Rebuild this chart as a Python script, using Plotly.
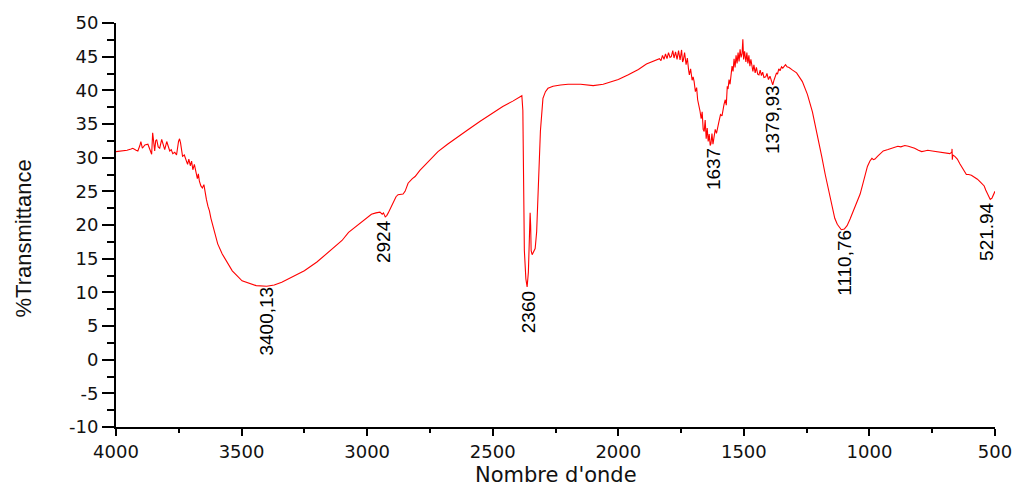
import plotly.graph_objects as go

# Wavenumber (cm-1) and %Transmittance
wavenumber = [
    4000, 3980, 3956, 3940, 3933, 3920, 3913, 3905, 3901, 3895, 3885, 3873, 3865, 3858, 3854, 3850,
    3846, 3842, 3838, 3832, 3826, 3818, 3812, 3806, 3798, 3792, 3786, 3780, 3774, 3766, 3759, 3751,
    3747, 3743, 3739, 3735, 3728, 3722, 3715, 3710, 3704, 3699, 3694, 3688, 3682, 3676, 3672, 3668,
    3662, 3656, 3650, 3645, 3640, 3634, 3628, 3622, 3616, 3608, 3595, 3577, 3561, 3537, 3498, 3470,
    3442, 3400, 3370, 3340, 3300, 3250, 3200, 3150, 3100, 3074, 3050, 3023, 3000, 2983, 2965, 2949,
    2940, 2935, 2928, 2922, 2916, 2905, 2896, 2885, 2877, 2865, 2857, 2849, 2843, 2837, 2820, 2809,
    2790, 2766, 2740, 2718, 2680, 2640, 2600, 2550, 2500, 2460, 2420, 2400, 2390, 2384, 2380, 2378,
    2374, 2368, 2363, 2358, 2355, 2351, 2349, 2347, 2343, 2337, 2331, 2325, 2318, 2310, 2300, 2290,
    2280, 2260, 2230, 2200, 2150, 2100, 2060, 2020, 2000, 1960, 1920, 1888, 1860,
    1836, 1830, 1824, 1818, 1812, 1806, 1800, 1794, 1789, 1783, 1778, 1772, 1766, 1760, 1754, 1748,
    1744, 1741, 1736, 1730, 1725, 1720, 1717, 1712, 1706, 1702, 1698, 1693, 1688, 1684, 1680, 1675,
    1670, 1666, 1662, 1658, 1654, 1650, 1646, 1642, 1638, 1634, 1631, 1627, 1623, 1619, 1614, 1609,
    1604, 1599, 1593, 1587, 1579, 1574, 1570, 1566, 1563, 1559, 1555, 1551, 1547, 1543, 1539, 1535,
    1531, 1527, 1523, 1519, 1515, 1511, 1507, 1504, 1501, 1497, 1492, 1488, 1484, 1480, 1476, 1472,
    1468, 1464, 1460, 1455, 1450, 1445, 1440, 1435, 1430, 1425, 1420, 1413, 1408, 1402, 1396, 1391,
    1385, 1380, 1375, 1370, 1366, 1361, 1356, 1350, 1345, 1340, 1334, 1328, 1320, 1306, 1290, 1267,
    1247, 1227, 1207, 1190, 1176, 1160, 1148, 1138, 1128, 1118, 1112, 1100, 1089, 1077, 1065, 1050,
    1037, 1027, 1017, 1008, 998, 990, 984, 978, 968, 958, 945, 926, 910, 900, 887, 875,
    859, 845, 835, 820, 805, 792, 780, 768, 750, 730, 713, 695, 680, 672, 671, 670,
    668, 660, 650, 640, 630, 622, 614, 605, 594, 582, 570, 556, 543, 537, 531, 525,
    519, 512, 506, 500,
]
transmittance = [
    30.9, 31.0, 31.1, 31.3, 31.4, 31.1, 31.0, 31.8, 32.4, 31.4, 31.9, 32.0, 31.2, 30.5, 33.7, 32.2,
    31.0, 32.5, 32.7, 31.6, 31.4, 32.7, 31.8, 31.2, 32.4, 31.5, 31.0, 31.2, 30.6, 30.8, 30.4, 32.4,
    32.8, 32.2, 31.0, 30.2, 30.4, 29.7, 29.0, 29.8, 28.8, 29.5, 28.2, 29.0, 27.8, 26.9, 27.6, 26.5,
    25.8, 25.5, 26.0, 24.5, 23.8, 22.8, 22.1, 21.0, 20.1, 19.1, 17.2, 15.7, 14.7, 13.2, 11.7, 11.3,
    11.0, 10.9, 11.1, 11.5, 12.3, 13.2, 14.5, 16.1, 17.7, 18.9, 19.6, 20.3, 21.0, 21.6, 21.8, 21.9,
    21.6, 21.8, 21.2, 21.4, 21.8, 22.7, 23.5, 24.2, 24.5, 24.6, 24.6, 25.0, 25.8, 26.2, 26.9, 27.2,
    28.1, 29.0, 30.0, 30.9, 32.0, 33.1, 34.1, 35.4, 36.6, 37.6, 38.4, 38.8, 39.1, 39.2, 37.0, 30.9,
    16.2, 12.0, 10.8, 13.0, 16.2, 21.8, 20.0, 16.2, 15.6, 16.0, 16.5, 19.0, 26.0, 34.0, 38.8, 39.8,
    40.3, 40.6, 40.8, 40.9, 40.9, 40.7, 40.9, 41.3, 41.6, 42.3, 43.1, 43.9, 44.3,
    44.7, 44.4, 45.2, 44.6, 45.4, 44.7, 45.6, 44.9, 45.0, 45.9, 44.8, 45.7, 44.6, 45.9, 44.5, 46.0,
    44.2, 44.5, 45.6, 43.8, 44.8, 43.0, 42.3, 43.2, 41.5, 42.0, 41.3, 39.8, 40.4, 38.6, 38.0, 37.0,
    35.8, 36.8, 34.2, 33.9, 35.6, 32.8, 34.4, 32.4, 33.5, 31.8, 32.1, 33.6, 32.0, 32.9, 34.2, 33.6,
    34.8, 35.4, 36.4, 36.2, 37.9, 38.6, 37.8, 40.6, 40.2, 41.6, 40.9, 42.3, 43.6, 42.8, 44.7, 43.4,
    45.2, 44.0, 45.6, 44.3, 46.1, 44.9, 45.5, 47.6, 44.6, 45.8, 44.2, 45.6, 44.0, 45.2, 43.6, 44.6,
    43.2, 42.8, 43.8, 42.6, 43.4, 42.4, 42.3, 43.0, 42.2, 42.7, 41.9, 42.0, 42.5, 41.6, 42.1, 41.3,
    40.8, 41.5, 42.2, 42.6, 42.4, 43.2, 42.9, 43.5, 43.3, 43.6, 43.8, 43.5, 43.4, 43.0, 42.6, 41.3,
    39.4, 36.8, 33.5, 30.2, 27.5, 24.6, 22.5, 21.0, 20.1, 19.5, 19.3, 19.4, 19.9, 20.9, 22.1, 23.3,
    24.6, 26.0, 27.5, 28.7, 29.5, 29.9, 29.7, 29.8, 30.2, 30.6, 31.0, 31.2, 31.4, 31.5, 31.7, 31.6,
    31.8, 31.7, 31.6, 31.4, 31.1, 30.9, 31.0, 31.1, 31.0, 30.9, 30.8, 30.7, 30.6, 30.8, 31.3, 29.7,
    30.4, 30.2, 29.8, 29.1, 28.4, 27.9, 27.5, 27.5, 27.4, 27.1, 26.8, 26.3, 25.8, 25.2, 24.7, 24.1,
    23.8, 24.0, 24.5, 25.0,
]

# Peak labels
peak_labels = ["3400,13", "2924", "2360", "1637", "1379,93", "1110,76", "521.94"]
peak_x = [3399, 2932, 2358, 1623, 1385, 1097, 531]
peak_y = [5.8, 17.5, 7.1, 28.3, 35.7, 14.4, 19.0]

y_tick_vals = [50, 45, 40, 35, 30, 25, 20, 15, 10, 5, 0, -5, -10]
y_tick_text = ["50", "45", "40", "35", "30", "25", "20", "15", "10", "5", "0", "-5", "-10"]
x_tick_vals = [4000, 3500, 3000, 2500, 2000, 1500, 1000, 500]
x_tick_text = ["4000", "3500", "3000", "2500", "2000", "1500", "1000", "500"]

fig = go.Figure()
fig.add_trace(go.Scatter(
    x=wavenumber, y=transmittance, mode="lines",
    line=dict(color="#ff0000", width=1.1), showlegend=False, hoverinfo="x+y",
))

tick_font = dict(family="DejaVu Sans, Liberation Sans, Arial", size=18, color="#111111")
label_font = "Liberation Sans, Arial"

for lab, px, py in zip(peak_labels, peak_x, peak_y):
    fig.add_annotation(
        x=px, y=py, xref="x", yref="y", text=lab, showarrow=False, textangle=-90,
        xanchor="center", yanchor="middle",
        font=dict(family=label_font, size=19, color="#000000"),
    )

fig.add_annotation(
    x=0.5, y=-0.118, xref="paper", yref="paper", text="Nombre d'onde", showarrow=False,
    xanchor="center", yanchor="middle",
    font=dict(family="DejaVu Sans, Liberation Sans", size=21, color="#111111"),
)
fig.add_annotation(
    x=-0.105, y=0.466, xref="paper", yref="paper", text="%Transmittance", showarrow=False,
    textangle=-90, xanchor="center", yanchor="middle",
    font=dict(family="Liberation Sans, Arial", size=22, color="#111111"),
)

fig.update_layout(
    width=1024, height=486,
    margin=dict(l=116, r=23, t=21, b=59),
    paper_bgcolor="white", plot_bgcolor="white",
    xaxis=dict(
        range=[4000, 500], showgrid=False, zeroline=False,
        showline=True, linecolor="#000000", linewidth=2,
        ticks="outside", ticklen=7, tickwidth=2, tickcolor="#000000",
        tickvals=x_tick_vals, ticktext=x_tick_text, tickfont=tick_font,
        minor=dict(ticks="outside", ticklen=4, tickwidth=2, tickcolor="#000000", dtick=250),
    ),
    yaxis=dict(
        range=[-10, 50], showgrid=False, zeroline=False,
        showline=True, linecolor="#000000", linewidth=2,
        ticks="outside", ticklen=12, tickwidth=2, tickcolor="#000000",
        tickvals=y_tick_vals, ticktext=y_tick_text, tickfont=tick_font,
        minor=dict(ticks="outside", ticklen=7, tickwidth=2, tickcolor="#000000", dtick=2.5, tick0=0),
    ),
)

fig.write_html("out.html")
